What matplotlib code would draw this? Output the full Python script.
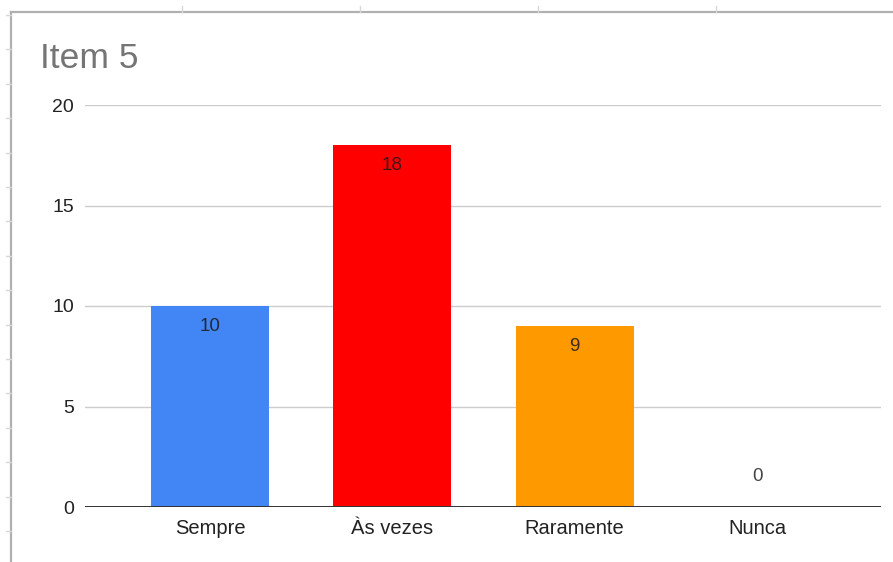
import numpy as np
import matplotlib.pyplot as plt
from matplotlib.lines import Line2D

plt.rcParams['font.family'] = ['Liberation Sans', 'DejaVu Sans']

# Data
categories = ['Sempre', 'Às vezes', 'Raramente', 'Nunca']
values = [10, 18, 9, 0]
colors = ['#4285F4', '#FF0000', '#FF9900', '#34A853']
yticks = [0, 5, 10, 15, 20]

fig = plt.figure(figsize=(8.93, 5.62), dpi=100)
W, H = 893, 562

# spreadsheet frame behind the chart
def fig_line(x0, y0, x1, y1, color, lw):
    fig.add_artist(Line2D([x0 / W, x1 / W], [1 - y0 / H, 1 - y1 / H],
                          color=color, lw=lw, transform=fig.transFigure))

fig_line(11, 12, 11, H, '#b0b0b0', 1.6)
fig_line(11, 12, W, 12, '#b0b0b0', 1.6)
for xt in [182, 360, 538, 716]:
    fig_line(xt, 6, xt, 12, '#d8d8d8', 1.0)
for yt in np.arange(15, H, 34.4):
    fig_line(6, yt, 11, yt, '#d8d8d8', 1.0)

ax = fig.add_axes([85 / W, 1 - 507 / H, 796 / W, 402 / H])
x = np.arange(len(categories))
ax.bar(x, values, width=0.647, color=colors[:len(values)], zorder=3)

for xi, v in zip(x, values):
    if v > 0:
        ax.text(xi, v - 0.6, str(v), ha='center', va='top', fontsize=13.5,
                color='#1a1a1a', alpha=0.85, zorder=4)
    else:
        ax.text(xi, v + 1.1, str(v), ha='center', va='bottom', fontsize=13.5,
                color='#444444', zorder=4)

ax.set_xlim(-0.686, 3.68)
ax.set_ylim(0, 20)
ax.set_yticks(yticks)
ax.set_xticks(x)
ax.set_xticklabels(categories)
ax.grid(axis='y', color='#cccccc', lw=1.0, zorder=0)
ax.axhline(0, color='#333333', lw=1.4, zorder=5)
for s in ax.spines.values():
    s.set_visible(False)
ax.tick_params(axis='both', length=0, colors='#222222')
ax.tick_params(axis='y', pad=8, labelsize=14)
ax.tick_params(axis='x', pad=9, labelsize=14.5)

fig.text(40 / W, 1 - 58 / H, 'Item 5', fontsize=25.5, color='#757575',
         ha='left', va='center')

fig.savefig('out.png', dpi=100)
